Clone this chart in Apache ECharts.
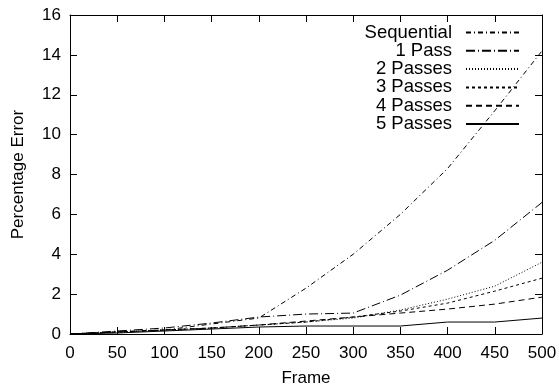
<!DOCTYPE html>
<html>
<head>
<meta charset="utf-8">
<script src="https://cdn.jsdelivr.net/npm/echarts@6/dist/echarts.min.js"></script>
<style>
html,body{margin:0;padding:0;background:#fff;}
#chart{width:559px;height:389px;}
</style>
</head>
<body>
<div id="chart"></div>
<script>
var frames = [0, 50, 100, 150, 200, 250, 300, 350, 400, 450, 500];
var seriesNames = ['Sequential', '1 Pass', '2 Passes', '3 Passes', '4 Passes', '5 Passes'];
var sequential = [0, 0.1, 0.2, 0.5, 0.8, 2.3, 4.0, 6.0, 8.3, 11.2, 14.2];
var pass1 = [0, 0.15, 0.3, 0.55, 0.85, 1.0, 1.05, 1.95, 3.2, 4.7, 6.6];
var pass2 = [0, 0.1, 0.2, 0.3, 0.45, 0.6, 0.8, 1.2, 1.75, 2.4, 3.6];
var pass3 = [0, 0.1, 0.2, 0.3, 0.45, 0.6, 0.85, 1.15, 1.55, 2.15, 2.8];
var pass4 = [0, 0.1, 0.2, 0.3, 0.45, 0.65, 0.85, 1.05, 1.25, 1.5, 1.85];
var pass5 = [0, 0.05, 0.15, 0.25, 0.35, 0.4, 0.4, 0.4, 0.6, 0.6, 0.8];
var xTicks = {min: 0, max: 500, interval: 50};
var yTicks = {min: 0, max: 16, interval: 2};

var allValues = [sequential, pass1, pass2, pass3, pass4, pass5];
var dashes = [[5, 3, 1, 3], [9, 3, 1, 3], [1, 2], [3, 3], [6, 4], 'solid'];
var FONT = 'Liberation Sans, Arial, Helvetica, sans-serif';
var FS = 17;

function pairs(vals) {
  return frames.map(function (f, i) { return [f, vals[i]]; });
}

var series = seriesNames.map(function (name, i) {
  return {
    name: name,
    type: 'line',
    data: pairs(allValues[i]),
    symbol: 'none',
    showSymbol: false,
    animation: false,
    lineStyle: {color: '#000', width: 1, type: dashes[i]},
    itemStyle: {color: '#000'}
  };
});

var legends = seriesNames.map(function (name, i) {
  return {
    data: [name],
    orient: 'vertical',
    align: 'right',
    right: 39,
    top: 23 + i * 18.3,
    padding: 0,
    itemWidth: 53,
    itemHeight: 18,
    selectedMode: false,
    itemStyle: {color: 'rgba(0,0,0,0)', borderColor: 'rgba(0,0,0,0)', borderWidth: 0, opacity: 0},
    textStyle: {color: '#000', fontFamily: FONT, fontSize: 18.5, lineHeight: 18, padding: [0, 9, 0, 0]}
  };
});

function axisCommon() {
  return {
    axisLine: {show: true, onZero: false, lineStyle: {color: '#000', width: 1}},
    axisTick: {show: true, inside: true, length: 7, lineStyle: {color: '#000', width: 1}},
    splitLine: {show: false}
  };
}

var option = {
  backgroundColor: '#fff',
  animation: false,
  grid: {left: 70, right: 17, top: 15, bottom: 55, containLabel: false, outerBoundsMode: 'none'},
  legend: legends,
  xAxis: [
    Object.assign({
      type: 'value', position: 'bottom', min: xTicks.min, max: xTicks.max, interval: xTicks.interval,
      name: 'Frame', nameLocation: 'middle', nameGap: 36,
      nameTextStyle: {color: '#000', fontFamily: FONT, fontSize: FS},
      axisLabel: {color: '#000', fontFamily: FONT, fontSize: FS, margin: 11}
    }, axisCommon()),
    Object.assign({
      type: 'value', position: 'top', min: xTicks.min, max: xTicks.max, interval: xTicks.interval,
      axisLabel: {show: false}
    }, axisCommon())
  ],
  yAxis: [
    Object.assign({
      type: 'value', position: 'left', min: yTicks.min, max: yTicks.max, interval: yTicks.interval,
      name: 'Percentage Error', nameLocation: 'middle', nameGap: 43,
      nameTextStyle: {color: '#000', fontFamily: FONT, fontSize: FS},
      axisLabel: {color: '#000', fontFamily: FONT, fontSize: FS, margin: 9}
    }, axisCommon()),
    Object.assign({
      type: 'value', position: 'right', min: yTicks.min, max: yTicks.max, interval: yTicks.interval,
      axisLabel: {show: false}
    }, axisCommon())
  ],
  series: series
};

var chart = echarts.init(document.getElementById('chart'), null, {renderer: 'canvas'});
chart.setOption(option);
</script>
</body>
</html>
